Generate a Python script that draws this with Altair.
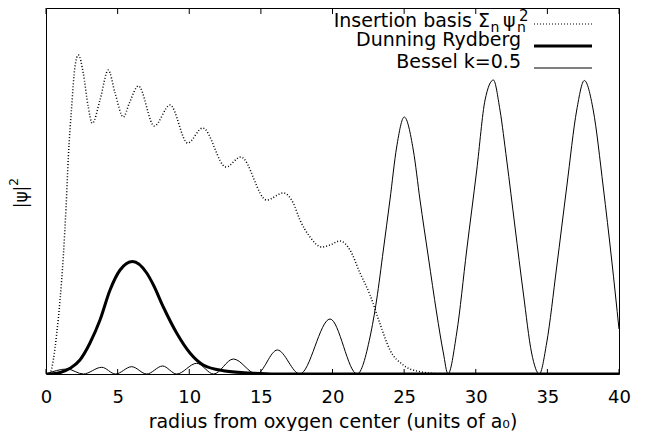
import altair as alt
import pandas as pd

# ---- data (x in units of a0, y in arbitrary |psi|^2 units) ----
ins_x = [0, 0.28, 0.51, 0.75, 0.98, 1.21, 1.4, 1.56, 1.79, 2.02, 2.26, 2.6, 2.95, 3.23,
         3.77, 4.35, 4.82, 5.4, 5.82, 6.45, 7.56, 8.66, 9.89, 10.94, 12.57, 13.6, 15.4,
         16.57, 17.26, 17.73, 18.43, 19.24, 19.83, 20.52, 21.22, 21.92, 22.62, 23.32,
         24.01, 24.94, 26.11, 27.74]
ins_y = [0, 1, 14, 40.7, 74, 118, 167, 217, 267, 307, 319, 301, 267, 250.7,
         274, 304, 281, 257, 271, 288, 248, 269, 231, 246, 207, 217, 174,
         181, 171, 154, 137, 127, 129, 133, 124, 101, 79, 50,
         24, 9, 2.3, 0]

ryd_x = [0, 0.5, 1.0, 1.68, 2.37, 3.07, 3.77, 4.47, 5.17, 6.05, 7.03, 7.5, 8.19, 9.12,
         10.05, 10.98, 12.38, 14.24, 16, 20, 40]
ryd_y = [0, 0.3, 1.5, 5.7, 14, 31, 54, 84, 104, 112.5, 101, 89, 67, 41,
         21, 9, 3.3, 1, 0, 0, 0]

bes_x = [0, 1.47, 2.6, 3.89, 4.85, 5.98, 7.03, 8.14, 9.12, 10.52, 11.7, 13.08, 14.7,
         16.15, 17.72, 19.83, 21.72, 22.62, 23.08, 23.55, 24.01, 24.48, 25.01, 25.64,
         26.11, 26.69, 27.27, 27.74, 28.06, 28.67, 29.37, 30.07, 30.65, 31.23, 31.69,
         32.16, 32.74, 33.32, 33.9, 34.44, 34.95, 35.65, 36.35, 37.05, 37.58, 38.2,
         38.9, 39.49, 40]
bes_y = [0, 5, 0, 6.7, 0, 7.3, 0, 8, 0, 10.7, 0, 15, 0,
         24, 0, 55, 0, 37, 74, 124, 174, 227, 257, 224,
         174, 117, 61, 21, 0, 41, 124, 204, 274, 294, 264,
         214, 147, 81, 21, 0, 31, 107, 187, 264, 293.5, 264,
         187, 114, 45]

x_ticks = [0, 5, 10, 15, 20, 25, 30, 35, 40]
# first legend entry is set in pieces (gnuplot enhanced text: Σ_n ψ_n^2)
legend1_pieces = ["Insertion basis \u03a3", "n", "\u03c8", "n", "2"]
legend_labels = ["Dunning Rydberg", "Bessel k=0.5"]
y_title_pieces = ["|\u03c8|", "2"]

FONT = "DejaVu Sans"
FS = 19
W, H = 573, 366
DOT = [1, 2]

xs = alt.Scale(domain=[0, 40], nice=False, zero=False)
ys = alt.Scale(domain=[0, 366], nice=False, zero=False)

x_axis = alt.Axis(values=x_ticks, ticks=False, domain=False, grid=False, labelFlush=False,
                  labelFont=FONT, labelFontSize=18, labelColor="black", labelPadding=14,
                  title="radius from oxygen center (units of a\u2080)",
                  titleFont=FONT, titleFontSize=FS, titleFontWeight="normal",
                  titleColor="black", titleY=53, titleBaseline="alphabetic")
y_axis = alt.Axis(labels=False, ticks=False, domain=False, grid=False, title=None)


def curve(xv, yv, width, dash=None):
    df = pd.DataFrame({"r": xv, "p": yv})
    kw = dict(color="black", strokeWidth=width, interpolate="monotone", clip=True)
    if dash is not None:
        kw["strokeDash"] = dash
    return alt.Chart(df).mark_line(**kw).encode(
        x=alt.X("r:Q", scale=xs, axis=x_axis),
        y=alt.Y("p:Q", scale=ys, axis=y_axis),
    )


ins = curve(ins_x, ins_y, 1.5, dash=DOT)
ryd = curve(ryd_x, ryd_y, 3)
bes = curve(bes_x, bes_y, 1)

tick_df = pd.DataFrame({"r": x_ticks})
ticks_bottom = alt.Chart(tick_df).mark_rule(color="black", strokeWidth=1).encode(
    x=alt.X("r:Q", scale=xs, axis=x_axis), y=alt.value(H), y2=alt.value(H - 5))
ticks_top = alt.Chart(tick_df).mark_rule(color="black", strokeWidth=1).encode(
    x=alt.X("r:Q", scale=xs, axis=x_axis), y=alt.value(0), y2=alt.value(6))


def text_at(s, x, y, size, align, angle=0):
    d = pd.DataFrame({"label": [s]})
    kw = dict(align=align, baseline="alphabetic", font=FONT, fontSize=size, color="black")
    if angle:
        kw["angle"] = angle
    return alt.Chart(d).mark_text(**kw).encode(
        x=alt.value(x), y=alt.value(y), text="label:N")


def sample(y, **st):
    d = pd.DataFrame({"k": [0]})
    return alt.Chart(d).mark_rule(color="black", **st).encode(
        x=alt.value(488), x2=alt.value(546), y=alt.value(y))


legend_layers = [
    text_at(legend1_pieces[0], 444, 19, FS, "right"),
    text_at(legend1_pieces[1], 444.5, 24, 14, "left"),
    text_at(legend1_pieces[2], 457, 19, FS, "left"),
    text_at(legend1_pieces[3], 471, 24, 14, "left"),
    text_at(legend1_pieces[4], 473, 13, 15, "left"),
    sample(16, strokeWidth=1, strokeDash=DOT),
    text_at(legend_labels[0], 475, 38, FS, "right"),
    sample(38, strokeWidth=3),
    text_at(legend_labels[1], 475, 60, FS, "right"),
    sample(60, strokeWidth=1),
]

# y-axis title "|ψ|²" set in pieces, rotated
y_title = [
    text_at(y_title_pieces[0], -19, 189, 17, "center", angle=270),
    text_at(y_title_pieces[1], -28, 174, 12, "center", angle=270),
]

chart = alt.layer(ins, ryd, bes, ticks_bottom, ticks_top, *legend_layers, *y_title).properties(
    width=W, height=H,
    autosize=alt.AutoSizeParams(type="none"),
    padding={"left": 38, "top": 0, "right": 19, "bottom": 57},
    background="white",
).configure_view(stroke="black", strokeWidth=1)

chart.save("out.html", embed_options={"renderer": "svg", "actions": False})
